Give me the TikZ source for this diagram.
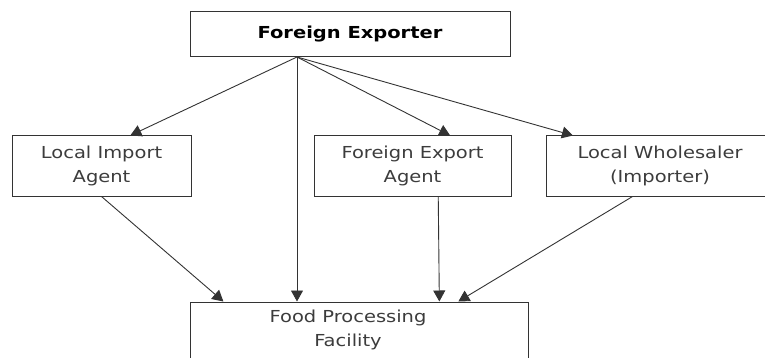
\documentclass[tikz,border=0pt]{standalone}
\usepackage{fontspec}
\setmainfont{DejaVu Sans}[FakeStretch=1.18]
\usepackage{tikz}
\usetikzlibrary{positioning,calc,arrows.meta}
\definecolor{linegray}{HTML}{333333}
\definecolor{textgray}{HTML}{3C3C3C}
\tikzset{
  box/.style={shape=rectangle,draw=linegray,line width=1pt,align=center,
    text=textgray,font=\fontsize{16.5}{24}\selectfont,inner sep=0pt},
  arr/.style={draw=linegray,line width=0.9pt,
    -{Triangle[length=11pt,width=12pt]}}
}

\begin{document}
\begin{tikzpicture}[x=1pt,y=-1pt]
    \useasboundingbox (0,0) rectangle (765,358);
    \node (exp) [box,minimum width=320,minimum height=45,text=black,
      font=\fontsize{16.5}{24}\selectfont\bfseries] at (350,34.5) {Foreign Exporter};
    \node (imp) [box,minimum width=179,minimum height=60] at (101.5,166) {Local Import\\Agent};
    \node (fea) [box,minimum width=197,minimum height=60] at (412.5,166) {Foreign Export\\Agent};
    \node (whs) [box,minimum width=228,minimum height=60] at (660,166) {Local Wholesaler\\(Importer)};
    \node (food) [box,minimum width=338,minimum height=80] at (359,342) {};
    \node (foodtxt) [box,draw=none] at (348,330) {Food Processing\\Facility};
    \coordinate (src) at (297,57);
    \draw[arr] (src) -- ($(imp.north west)!0.66!(imp.north east)$);
    \draw[arr] (src) -- (src |- food.north);
    \draw[arr] (src) -- ($(fea.north west)!0.69!(fea.north east)$);
    \draw[arr] (src) -- ($(whs.north west)!0.12!(whs.north east)$);
    \draw[arr] (imp.south) -- ($(food.north west)!0.1!(food.north east)$);
    \draw[arr] ($(fea.south west)!0.63!(fea.south east)$) -- ($(food.north west)!0.737!(food.north east)$);
    \draw[arr] ($(whs.south west)!0.38!(whs.south east)$) -- ($(food.north west)!0.793!(food.north east)$);
  \end{tikzpicture}
\end{document}
